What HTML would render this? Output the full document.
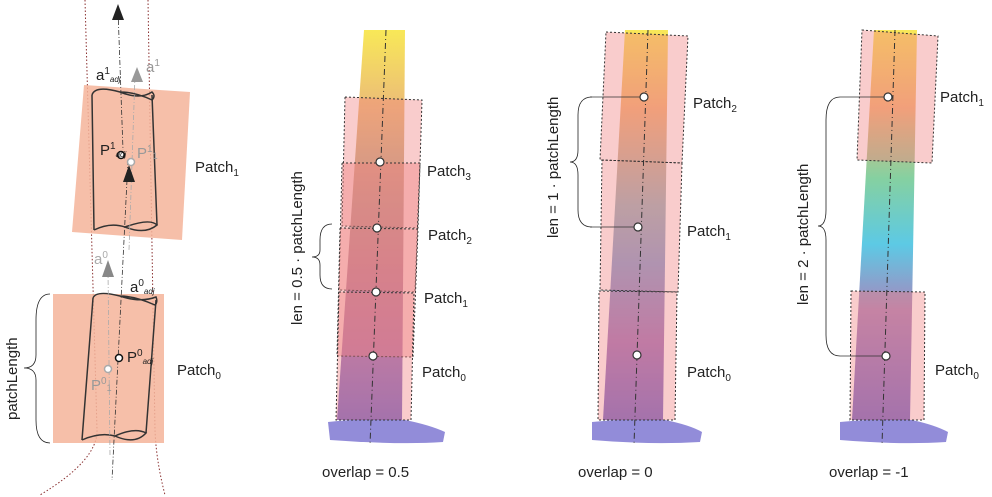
<!DOCTYPE html>
<html><head><style>body{margin:0;background:#fff}svg{display:block;font-family:"Liberation Sans",sans-serif}</style></head><body>
<svg width="992" height="497" viewBox="0 0 992 497">
<defs>
<linearGradient id="tg" x1="0" y1="0" x2="0" y2="1">
<stop offset="0" stop-color="#f7e43a"/><stop offset="0.2" stop-color="#e8b060"/><stop offset="0.45" stop-color="#a09080"/><stop offset="0.62" stop-color="#9a7090"/><stop offset="0.82" stop-color="#8a60b0"/><stop offset="1" stop-color="#5a50c0"/></linearGradient>
<linearGradient id="tg2" x1="0" y1="0" x2="0" y2="1">
<stop offset="0" stop-color="#f7e43a"/><stop offset="0.2" stop-color="#f0a860"/><stop offset="0.45" stop-color="#8aa8b0"/><stop offset="0.6" stop-color="#7090c8"/><stop offset="0.8" stop-color="#9060b0"/><stop offset="1" stop-color="#5a50c0"/></linearGradient>
<linearGradient id="tg3" x1="0" y1="0" x2="0" y2="1">
<stop offset="0" stop-color="#f7e43a"/><stop offset="0.2" stop-color="#f0a860"/><stop offset="0.38" stop-color="#70c890"/><stop offset="0.55" stop-color="#40c0e0"/><stop offset="0.72" stop-color="#9a70b0"/><stop offset="1" stop-color="#5a50c0"/></linearGradient>
</defs>
<!-- Left diagram -->
<g fill="none" stroke="#8a3030" stroke-width="1" stroke-dasharray="1.5,2">
<path d="M85,0 L97,430 Q98,460 40,495"/>
<path d="M148,0 L155,430 Q156,460 165,495"/>
</g>
<polygon points="84,85 190,92 182,240 72,232" fill="#f5b49a" opacity="0.85"/>
<rect x="53" y="294" width="111" height="149" fill="#f5b49a" opacity="0.85"/>
<g fill="none" stroke="#333" stroke-width="1.5">
<path d="M92,95 Q95,85 120,92 Q140,100 152,92 Q156,96 152,100 Q135,92 120,92"/>
<path d="M92,95 L94,230 M152,95 L157,225"/>
<path d="M94,230 Q110,222 125,227 Q145,235 157,225 Q150,218 125,227"/>
<path d="M93,298 Q96,290 120,296 Q140,303 156,297 Q158,302 155,305 Q135,296 120,296"/>
<path d="M93,298 L82,440 M156,300 L146,433"/>
<path d="M82,440 Q100,432 115,436 Q135,445 146,433 Q135,427 115,436"/>
</g>
<g stroke="#333" stroke-width="0.8" stroke-dasharray="5,2,1,2" fill="none">
<line x1="118" y1="10" x2="123" y2="150"/><line x1="128" y1="160" x2="112" y2="480"/>
</g>
<g stroke="#aaa" stroke-width="0.8" stroke-dasharray="5,2,1,2" fill="none">
<line x1="135" y1="75" x2="129" y2="250"/><line x1="108" y1="270" x2="110" y2="455"/>
</g>
<polygon points="118,4 112,20 124,20" fill="#222"/>
<polygon points="137,67 131,82 143,82" fill="#999"/>
<polygon points="129,165 123,182 135,182" fill="#222"/>
<polygon points="108,260 102,277 114,277" fill="#888"/>
<circle cx="121" cy="155" r="3.5" fill="#fff" stroke="#111" stroke-width="1.5"/>
<circle cx="131" cy="162" r="3.5" fill="#fff" stroke="#aaa" stroke-width="1.5"/>
<circle cx="119" cy="358" r="3.5" fill="#fff" stroke="#111" stroke-width="1.5"/>
<circle cx="108" cy="369" r="3.5" fill="#fff" stroke="#aaa" stroke-width="1.5"/>
<g font-size="15">
<text x="96" y="80" fill="#222">a<tspan font-size="10" dy="-6">1</tspan><tspan font-size="8" dy="8" font-style="italic">adj</tspan></text>
<text x="146" y="72" fill="#999">a<tspan font-size="10" dy="-6">1</tspan></text>
<text x="100" y="155" fill="#222">P<tspan font-size="10" dy="-6">1</tspan><tspan font-size="8" dy="8" font-style="italic">adj</tspan></text>
<text x="137" y="158" fill="#999">P<tspan font-size="10" dy="-6">1</tspan><tspan font-size="9" dy="7">1</tspan></text>
<text x="94" y="264" fill="#aaa">a<tspan font-size="10" dy="-6">0</tspan></text>
<text x="130" y="292" fill="#222">a<tspan font-size="10" dy="-6">0</tspan><tspan font-size="8" dy="8" font-style="italic">adj</tspan></text>
<text x="127" y="362" fill="#222">P<tspan font-size="10" dy="-6">0</tspan><tspan font-size="8" dy="8" font-style="italic">adj</tspan></text>
<text x="91" y="390" fill="#999">P<tspan font-size="10" dy="-6">0</tspan><tspan font-size="9" dy="7">1</tspan></text>
<text x="195" y="172" fill="#222">Patch<tspan font-size="10" dy="4">1</tspan></text>
<text x="177" y="375" fill="#222">Patch<tspan font-size="10" dy="4">0</tspan></text>
<text transform="translate(17,420) rotate(-90)" fill="#222">patchLength</text>
</g>
<path d="M50,294 Q36,294 36,320 L36,355 Q36,368 24,368 Q36,368 36,380 L36,420 Q36,443 50,443" fill="none" stroke="#222" stroke-width="0.8"/>

<!-- Trunk 1 -->
<path d="M364,30 L405,30 L402,420 L337,420 Z" fill="url(#tg)" opacity="0.85"/>
<path d="M328,422 Q360,418 405,420 Q430,425 445,432 L443,442 Q400,445 330,440 Z" fill="#4a40c0" opacity="0.6"/>
<g stroke="#333" stroke-dasharray="2,2" stroke-width="1">
<polygon points="345,97 422,100 418,228 342,226" fill="#f08080" fill-opacity="0.4"/>
<polygon points="342,163 420,163 415,292 339,290" fill="#f08080" fill-opacity="0.4"/>
<polygon points="340,228 418,229 413,357 337,356" fill="#f08080" fill-opacity="0.4"/>
<polygon points="339,292 414,293 411,420 336,420" fill="#f08080" fill-opacity="0.4"/>
</g>
<line x1="386" y1="30" x2="370" y2="445" stroke="#333" stroke-dasharray="6,3,1,3"/>
<g fill="#fff" stroke="#333" stroke-width="1.2"><circle cx="380" cy="162" r="4"/><circle cx="377" cy="228" r="4"/><circle cx="376" cy="292" r="4"/><circle cx="373" cy="356" r="4"/></g>
<path d="M332,224 Q320,224 320,240 L320,250 Q320,257 312,257 Q320,257 320,265 L320,275 Q320,289 332,289" fill="none" stroke="#222" stroke-width="0.8"/>
<text transform="translate(302,325) rotate(-90)" font-size="15" fill="#222">len = 0.5 · patchLength</text>
<g font-size="15" fill="#222">
<text x="427" y="176">Patch<tspan font-size="10" dy="4">3</tspan></text>
<text x="428" y="240">Patch<tspan font-size="10" dy="4">2</tspan></text>
<text x="424" y="303">Patch<tspan font-size="10" dy="4">1</tspan></text>
<text x="422" y="377">Patch<tspan font-size="10" dy="4">0</tspan></text>
<text x="322" y="477">overlap = 0.5</text>
<text x="578" y="477">overlap = 0</text>
<text x="829" y="477">overlap = -1</text>
</g>

<!-- Trunk 2 -->
<path d="M625,30 L668,30 L663,420 L603,420 Z" fill="url(#tg2)" opacity="0.85"/>
<path d="M592,422 Q630,418 665,420 Q690,425 702,432 L700,442 Q650,445 592,440 Z" fill="#4a40c0" opacity="0.6"/>
<g stroke="#333" stroke-dasharray="2,2" stroke-width="1" fill="#f08080" fill-opacity="0.4">
<polygon points="606,32 688,36 682,163 600,160"/>
<polygon points="602,160 682,163 678,292 600,290"/>
<polygon points="599,291 677,292 675,420 598,420"/>
</g>
<line x1="648" y1="30" x2="634" y2="445" stroke="#333" stroke-dasharray="6,3,1,3"/>
<g fill="#fff" stroke="#333" stroke-width="1.2"><circle cx="644" cy="97" r="4"/><circle cx="638" cy="227" r="4"/><circle cx="637" cy="355" r="4"/></g>
<path d="M590,97 L640,97 M590,227 L634,227" stroke="#333" stroke-width="0.8"/>
<path d="M592,97 Q578,97 578,115 L578,150 Q578,162 570,162 Q578,162 578,175 L578,210 Q578,227 592,227" fill="none" stroke="#222" stroke-width="0.8"/>
<text transform="translate(558,238) rotate(-90)" font-size="15" fill="#222">len = 1 · patchLength</text>
<g font-size="15" fill="#222">
<text x="693" y="108">Patch<tspan font-size="10" dy="4">2</tspan></text>
<text x="687" y="236">Patch<tspan font-size="10" dy="4">1</tspan></text>
<text x="687" y="377">Patch<tspan font-size="10" dy="4">0</tspan></text>
</g>

<!-- Trunk 3 -->
<path d="M874,30 L917,30 L910,420 L852,420 Z" fill="url(#tg3)" opacity="0.85"/>
<path d="M840,422 Q880,418 912,420 Q935,425 948,432 L946,442 Q900,445 840,440 Z" fill="#4a40c0" opacity="0.6"/>
<g stroke="#333" stroke-dasharray="2,2" stroke-width="1" fill="#f08080" fill-opacity="0.4">
<polygon points="862,30 938,36 932,163 857,160"/>
<polygon points="851,291 925,292 924,420 850,420"/>
</g>
<line x1="895" y1="30" x2="882" y2="445" stroke="#333" stroke-dasharray="6,3,1,3"/>
<g fill="#fff" stroke="#333" stroke-width="1.2"><circle cx="888" cy="97" r="4"/><circle cx="886" cy="356" r="4"/></g>
<path d="M840,97 L884,97 M840,356 L882,356" stroke="#333" stroke-width="0.8"/>
<path d="M840,97 Q826,97 826,120 L826,210 Q826,226 818,226 Q826,226 826,240 L826,335 Q826,356 840,356" fill="none" stroke="#222" stroke-width="0.8"/>
<text transform="translate(808,305) rotate(-90)" font-size="15" fill="#222">len = 2 · patchLength</text>
<g font-size="15" fill="#222">
<text x="940" y="102">Patch<tspan font-size="10" dy="4">1</tspan></text>
<text x="935" y="375">Patch<tspan font-size="10" dy="4">0</tspan></text>
</g>
</svg>
</body></html>
